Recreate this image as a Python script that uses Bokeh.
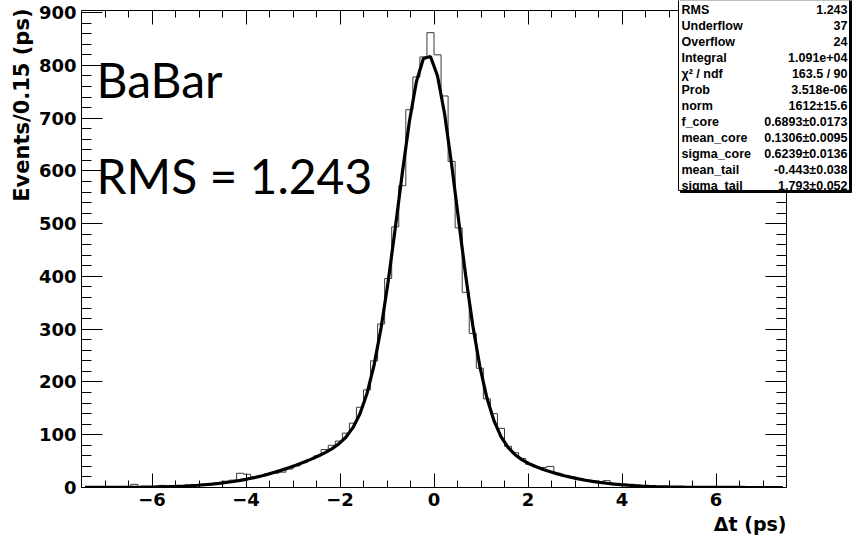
import math
from bokeh.plotting import figure
from bokeh.models import Range1d, LinearAxis, FixedTicker, Label, BoxAnnotation, Title
from bokeh.embed import file_html
from bokeh.resources import INLINE

# ---------------- data ----------------
bin_start = -7.5
bin_width = 0.15
counts = [0, 0, 1, 0, 0, 1, 2, 6, 2, 1,
          1, 4, 3, 2, 3, 4, 5, 7, 6, 8,
          12, 14, 27, 25, 20, 22, 26, 27, 29, 35,
          41, 47, 53, 60, 72, 80, 88, 103, 122, 152,
          185, 240, 310, 396, 494, 572, 716, 778, 816, 862,
          820, 742, 618, 492, 370, 292, 226, 168, 140, 112,
          78, 66, 55, 44, 39, 38, 40, 27, 22, 20,
          16, 13, 12, 10, 13, 8, 6, 5, 4, 3,
          2, 2, 1, 1, 1, 0, 1, 0, 0, 0,
          0, 0, 0, 0, 0, 0, 0, 0, 0, 0]
fit_values = [0.06, 0.08, 0.11, 0.15, 0.20, 0.27, 0.35, 0.47, 0.62, 0.80,
              1.04, 1.34, 1.71, 2.17, 2.73, 3.42, 4.25, 5.25, 6.43, 7.83,
              9.46, 11.35, 13.5, 16.0, 18.8, 21.9, 25.4, 29.3, 33.4, 37.9,
              42.7, 47.8, 53.3, 59.2, 65.7, 73.2, 82.6, 95.2, 113.4, 139.9,
              178.3, 231.9, 302.8, 390.6, 490.9, 595.6, 692.8, 769.1, 812.9, 816.8,
              779.9, 708.3, 612.4, 505.8, 400.8, 306.9, 229.6, 170.0, 126.7, 96.5,
              76.1, 62.2, 52.4, 45.0, 39.2, 34.1, 29.7, 25.8, 22.2, 19.1,
              16.3, 13.7, 11.5, 9.6, 8.0, 6.55, 5.35, 4.34, 3.49, 2.79,
              2.22, 1.75, 1.37, 1.07, 0.82, 0.63, 0.48, 0.36, 0.27, 0.20,
              0.15, 0.10, 0.07, 0.05, 0.04, 0.03, 0.02, 0.01, 0.01, 0.01]
x_ticks = [-6, -4, -2, 0, 2, 4, 6]
y_ticks = [0, 100, 200, 300, 400, 500, 600, 700, 800, 900]
stats_labels = ["RMS", "Underflow", "Overflow", "Integral", "\u03c7\u00b2 / ndf", "Prob",
                "norm", "f_core", "mean_core", "sigma_core", "mean_tail", "sigma_tail"]
stats_values = ["1.243", "37", "24", "1.091e+04", "163.5 / 90", "3.518e-06",
                "1612\u00b115.6", "0.6893\u00b10.0173", "0.1306\u00b10.0095",
                "0.6239\u00b10.0136", "-0.443\u00b10.038", "1.793\u00b10.052"]
x_title = "\u0394t (ps)"
y_title = "Events/0.15 (ps)"
big_lines = ["BaBar", "RMS = 1.243"]

# ---------------- derived geometry ----------------
n = len(counts)
edges = [bin_start + bin_width * i for i in range(n + 1)]
centers = [bin_start + bin_width * (i + 0.5) for i in range(n)]
x_lo, x_hi = edges[0], edges[-1]
y_lo, y_top = 0, 904          # ROOT frame

W, H = 852, 544
fl, fr, ft, fb = 81, 786, 10, 487   # ROOT frame in page pixels
px_x = (x_hi - x_lo) / (fr - fl)
px_y = (y_top - y_lo) / (fb - ft)
x_end = x_hi + (W - fr) * px_x     # bokeh frame extends to right edge
y_end = y_top + ft * px_y          # and to top edge

step_x = [edges[0]]
step_y = [0]
for i in range(n):
    step_x += [edges[i], edges[i + 1]]
    step_y += [counts[i], counts[i]]
step_x.append(edges[-1])
step_y.append(0)

p = figure(width=W, height=H, x_range=Range1d(x_lo, x_end), y_range=Range1d(y_lo, y_end),
           output_backend="svg", toolbar_location=None,
           x_axis_type=None, y_axis_type=None,
           min_border_left=fl, min_border_right=0, min_border_top=0, min_border_bottom=H - fb)
p.xgrid.visible = False
p.ygrid.visible = False
p.outline_line_color = None
p.background_fill_color = "white"
p.border_fill_color = "white"

FONT = "DejaVu Sans"
x_minor = [k * 0.5 for k in range(-15, 16)]
y_minor = [k * 20 for k in range(0, 46)]


def style_axis(ax, major_in, minor_in, labels):
    ax.axis_line_color = "black"
    ax.axis_line_width = 1
    ax.major_tick_line_color = "black"
    ax.minor_tick_line_color = "black"
    ax.major_tick_in = major_in
    ax.major_tick_out = 0
    ax.minor_tick_in = minor_in
    ax.minor_tick_out = 0
    if labels:
        ax.major_label_text_font = FONT
        ax.major_label_text_font_style = "bold"
        ax.major_label_text_font_size = "18px"
        ax.major_label_text_color = "black"
        ax.major_label_standoff = 5
    else:
        ax.major_label_text_font_size = "0px"
        ax.major_label_standoff = 0
        ax.major_label_text_color = None


xb = LinearAxis(ticker=FixedTicker(ticks=x_ticks, minor_ticks=x_minor), bounds=(x_lo, x_hi))
style_axis(xb, 14, 7, True)
p.add_layout(xb, "below")
xt = LinearAxis(ticker=FixedTicker(ticks=x_ticks, minor_ticks=x_minor), bounds=(x_lo, x_hi),
                fixed_location=y_top)
style_axis(xt, 14, 7, False)
p.add_layout(xt, "above")
yl = LinearAxis(ticker=FixedTicker(ticks=y_ticks, minor_ticks=y_minor), bounds=(y_lo, y_top))
style_axis(yl, 21, 10, True)
p.add_layout(yl, "left")
yr = LinearAxis(ticker=FixedTicker(ticks=y_ticks, minor_ticks=y_minor), bounds=(y_lo, y_top),
                fixed_location=x_hi)
style_axis(yr, 21, 10, False)
p.add_layout(yr, "right")

# axis titles as side titles aligned to the end of the axes
p.add_layout(Title(text=y_title, align="right", offset=8, standoff=3,
                   text_font=FONT, text_font_style="bold", text_font_size="21px",
                   text_color="black"), "left")
p.add_layout(Title(text=x_title, align="right", offset=W - fr, standoff=4,
                   text_font=FONT, text_font_style="bold", text_font_size="19px",
                   text_color="black"), "below")

# histogram outline and fit
p.line(step_x, step_y, line_color="#3a3a3a", line_width=1)
p.line(centers, fit_values, line_color="black", line_width=3.2)

# big text
p.add_layout(Label(x=x_lo, y=y_end, text=big_lines[0], text_align="left",
                   text_baseline="middle", x_offset=15, y_offset=-79,
                   text_font="Lato", text_font_size="48px", text_color="black"))
p.add_layout(Label(x=x_lo, y=y_end, text=big_lines[1], text_align="left",
                   text_baseline="middle", x_offset=15, y_offset=-175,
                   text_font="Lato", text_font_size="48px", text_color="black"))

# stats box
SFONT = "Liberation Sans"
box_left = x_hi - (fr - 678) * px_x
box_right = x_hi + (849 - fr) * px_x
box_bottom = y_end - 190 * px_y
box_top = y_end + 20 * px_y
p.add_layout(BoxAnnotation(left=box_left + 2 * px_x, right=box_right + 2 * px_x,
                           bottom=box_bottom - 2 * px_y, top=box_top,
                           fill_color="black", fill_alpha=1, line_color="black", line_alpha=1))
p.add_layout(BoxAnnotation(left=box_left, right=box_right, bottom=box_bottom, top=box_top,
                           fill_color="white", fill_alpha=1, line_color="black",
                           line_width=1, line_alpha=1))
for i, (lab, val) in enumerate(zip(stats_labels, stats_values)):
    yoff = -(9 + 16 * i)
    p.add_layout(Label(x=x_hi, y=y_end, text=lab, text_align="left", text_baseline="middle",
                       x_offset=681 - fr, y_offset=yoff, text_font=SFONT, text_font_style="bold",
                       text_font_size="12.5px", text_color="black"))
    p.add_layout(Label(x=x_hi, y=y_end, text=val, text_align="right", text_baseline="middle",
                       x_offset=847 - fr, y_offset=yoff, text_font=SFONT, text_font_style="bold",
                       text_font_size="12.5px", text_color="black"))

open("out.html", "w").write(file_html(p, INLINE))
